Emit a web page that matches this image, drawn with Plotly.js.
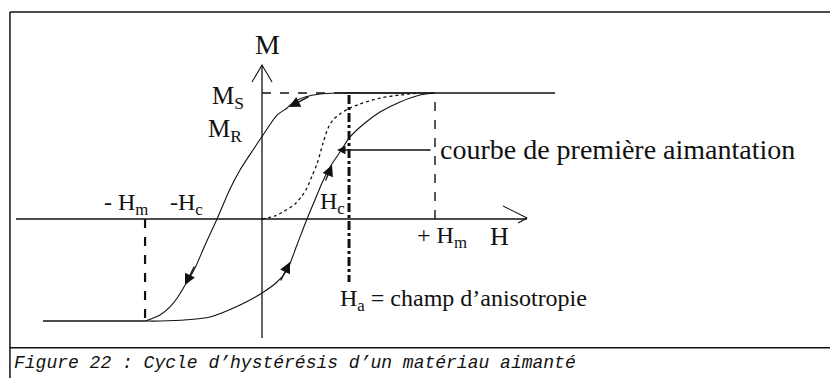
<!DOCTYPE html>
<html>
<head>
<meta charset="utf-8">
<script src="https://cdn.plot.ly/plotly-3.0.1.min.js"></script>
<style>
  html, body { margin: 0; padding: 0; background: #fff; }
  #chart { width: 830px; height: 378px; }
</style>
</head>
<body>
<div id="chart"></div>
<script>
// Units: H in multiples of Hm, M in multiples of Ms
const hmPos = 1.0;
const hmNeg = -0.676;
const msPos = 1.0;
const msNeg = -0.810;
const haVal = 0.503;
const satRightEnd = 1.694;
const satLeftEnd = -1.266;
const dashEnd = 0.434;

// descending branch (from +Hm to -Hm)
const descH = [1.0, 0.682, 0.434, 0.335, 0.249, 0.185, 0.145, 0.087, 0.006, -0.052, -0.127, -0.185, -0.260, -0.329, -0.387, -0.434, -0.486, -0.532, -0.590, -0.676];
const descM = [1.0, 1.0, 1.0, 0.992, 0.968, 0.929, 0.881, 0.825, 0.667, 0.548, 0.389, 0.238, 0.0, -0.206, -0.389, -0.500, -0.619, -0.698, -0.762, -0.810];

// ascending branch (from -Hm to +Hm)
const ascH = [-0.676, -0.590, -0.434, -0.301, -0.127, 0.0, 0.087, 0.145, 0.202, 0.260, 0.306, 0.347, 0.393, 0.451, 0.509, 0.595, 0.682, 0.798, 0.913, 1.0];
const ascM = [-0.810, -0.810, -0.800, -0.778, -0.683, -0.587, -0.500, -0.405, -0.206, 0.0, 0.151, 0.286, 0.413, 0.532, 0.651, 0.762, 0.849, 0.929, 0.984, 1.0];

// first magnetisation curve
const firstH = [0.0, 0.075, 0.121, 0.191, 0.231, 0.260, 0.289, 0.318, 0.353, 0.382, 0.410, 0.451, 0.497, 0.566, 0.682, 0.798, 0.913];
const firstM = [0.0, 0.024, 0.056, 0.119, 0.183, 0.246, 0.341, 0.437, 0.603, 0.722, 0.786, 0.833, 0.873, 0.913, 0.960, 0.984, 1.0];

// axes
const hAxisH = [-1.422, 1.532];
const mAxisM = [-0.944, 1.222];
const mArrowH = [-0.058, 0.0, 0.058];
const mArrowM = [1.087, 1.222, 1.087];
const hArrowH = [1.393, 1.532, 1.480];
const hArrowM = [0.103, 0.008, -0.032];

// direction arrows on the curves: head and tail
const arrowHeadH = [0.156, -0.445, 0.162, 0.405, 0.434];
const arrowHeadM = [0.889, -0.524, -0.341, 0.429, 0.548];
const arrowTailH = [0.277, -0.387, 0.104, 0.364, 0.983];
const arrowTailM = [0.976, -0.365, -0.500, 0.294, 0.548];

// labels
const labelText = ['M', 'M<sub>S</sub>', 'M<sub>R</sub>', '- H<sub>m</sub>', '-H<sub>c</sub>', 'H<sub>c</sub>', '+ H<sub>m</sub>', 'H', 'H<sub>a</sub> = champ d\u2019anisotropie', 'courbe de première aimantation'];
const labelH = [0.029, -0.092, -0.104, -0.925, -0.543, 0.324, 0.884, 1.370, 0.439, 1.017];
const labelM = [1.381, 0.968, 0.706, 0.119, 0.119, 0.127, -0.143, -0.135, -0.643, 0.548];
const labelAnchor = ['center', 'right', 'right', 'left', 'left', 'left', 'left', 'center', 'left', 'left'];
const labelSize = [28, 25, 25, 24, 24, 24, 24, 26, 24, 28];

const caption = 'Figure 22 : Cycle d\u2019hystérésis d\u2019un matériau aimanté';

const ink = '#111';

function seg(x, y, width, dash) {
  return {
    x: x, y: y, mode: 'lines', type: 'scatter', hoverinfo: 'skip',
    line: { color: ink, width: width, dash: dash || 'solid' },
    showlegend: false
  };
}

function curve(x, y, width, dash) {
  const t = seg(x, y, width, dash);
  t.line.shape = 'spline';
  t.line.smoothing = 0.8;
  return t;
}

const traces = [
  seg(hAxisH, [0, 0], 1.6),
  seg([0, 0], mAxisM, 1.3),
  seg(mArrowH, mArrowM, 1.1),
  seg(hArrowH, hArrowM, 1.1),
  seg([0, dashEnd], [msPos, msPos], 1.5, 'dash'),
  seg([dashEnd, satRightEnd], [msPos, msPos], 1.5),
  seg([hmPos, hmPos], [0, msPos], 1.4, 'dash'),
  seg([hmNeg, hmNeg], [0, msNeg], 2.2, 'dash'),
  seg([satLeftEnd, hmNeg], [msNeg, msNeg], 1.6),
  seg([haVal, haVal], [0.984, -0.5], 3, 'dashdot'),
  curve(descH, descM, 1.1),
  curve(ascH, ascM, 1.1),
  curve(firstH, firstM, 1.3, 'dot')
];

const annotations = [];
for (let i = 0; i < arrowHeadH.length; i++) {
  annotations.push({
    x: arrowHeadH[i], y: arrowHeadM[i],
    ax: arrowTailH[i], ay: arrowTailM[i],
    xref: 'x', yref: 'y', axref: 'x', ayref: 'y',
    text: '', showarrow: true,
    arrowhead: 2, arrowsize: i === 4 ? 1.2 : 1.7, arrowwidth: i === 4 ? 1.4 : 1.3,
    arrowcolor: ink
  });
}
for (let i = 0; i < labelText.length; i++) {
  annotations.push({
    x: labelH[i], y: labelM[i], xref: 'x', yref: 'y',
    text: labelText[i], showarrow: false,
    xanchor: labelAnchor[i], yanchor: 'middle',
    font: { family: 'Liberation Serif, Times New Roman, serif', size: labelSize[i], color: ink }
  });
}
annotations.push({
  x: 0.014, y: 0.04, xref: 'paper', yref: 'paper',
  text: caption, showarrow: false, xanchor: 'left', yanchor: 'middle',
  font: { family: 'Liberation Mono, Courier New, monospace', size: 18, color: ink, style: 'italic' }
});

const layout = {
  width: 830, height: 378,
  margin: { l: 0, r: 0, t: 0, b: 0 },
  paper_bgcolor: '#fff', plot_bgcolor: '#fff',
  showlegend: false,
  xaxis: { range: [-1.5145, 3.2832], visible: false, fixedrange: true },
  yaxis: { range: [-1.2619, 1.7381], visible: false, fixedrange: true },
  annotations: annotations,
  shapes: [
    { type: 'line', xref: 'paper', yref: 'paper', x0: 0.012, x1: 1, y0: 0.968, y1: 0.968, line: { color: ink, width: 1.5 } },
    { type: 'line', xref: 'paper', yref: 'paper', x0: 0.012, x1: 1, y0: 0.080, y1: 0.080, line: { color: ink, width: 1.5 } },
    { type: 'line', xref: 'paper', yref: 'paper', x0: 0.012, x1: 0.012, y0: 0, y1: 0.968, line: { color: ink, width: 1.5 } }
  ]
};

Plotly.newPlot('chart', traces, layout, { displayModeBar: false, staticPlot: true });
</script>
</body>
</html>
